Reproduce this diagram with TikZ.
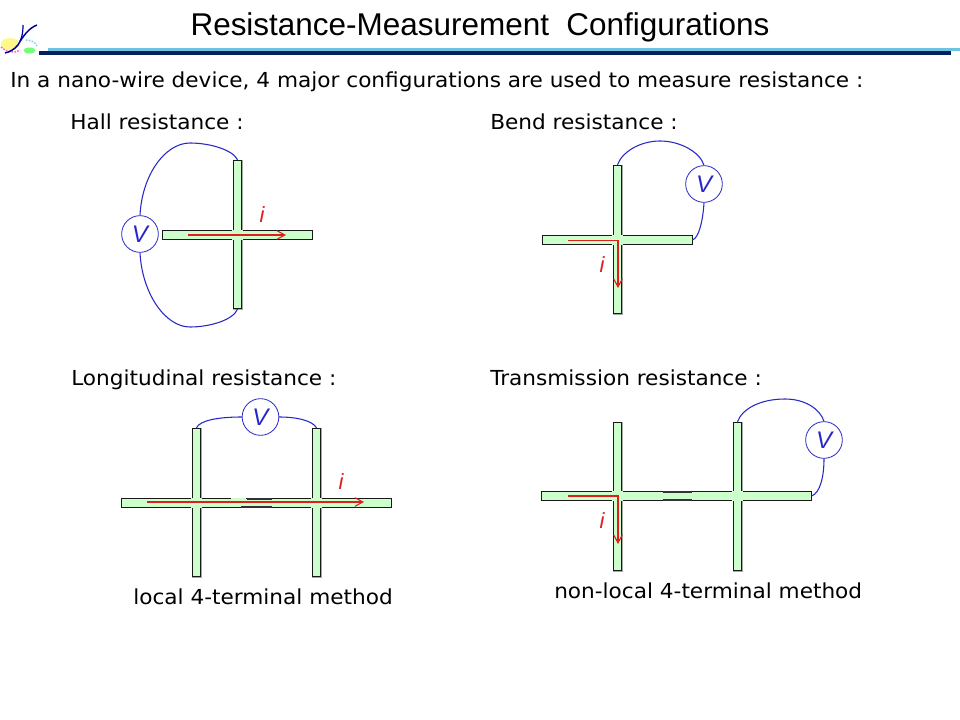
\documentclass[tikz,border=0pt]{standalone}
\usepackage{fontspec}
\setmainfont[FakeStretch=1.046]{DejaVu Sans}
\newfontfamily\titlefont{Liberation Sans}
\usetikzlibrary{arrows.meta}
\usetikzlibrary{calc}
\definecolor{bargreen}{RGB}{204,255,204}
\definecolor{wireblue}{RGB}{40,40,200}
\definecolor{currentred}{RGB}{225,30,30}
\definecolor{linelight}{RGB}{110,195,225}
\definecolor{linedark}{RGB}{0,32,96}
\begin{document}
\begin{tikzpicture}[
	x=0.75pt, y=-0.75pt,
	> = {Straight Barb[length=6pt,width=6.5pt]},
	txt/.style = {anchor=base west, inner sep=0pt, font=\fontsize{15.5}{18}\selectfont, text=black},
	barshadow/.style = {preaction={draw=black!35, line width=0.8pt, transform canvas={shift={(0.3pt,-0.3pt)}}}},
	hbar/.style = {draw=black!90, fill=bargreen, line width=0.6pt, rectangle, inner sep=0pt, minimum height=6.4pt, barshadow},
	vbar/.style = {draw=black!90, fill=bargreen, line width=0.6pt, rectangle, inner sep=0pt, minimum width=6.4pt, barshadow},
	joint/.style = {fill=bargreen, rectangle, inner sep=0pt, minimum size=7.6pt},
	meter/.style = {draw=wireblue, fill=white, circle, inner sep=0pt, minimum size=27.5pt, line width=0.6pt, text=wireblue, font=\titlefont\fontsize{18}{20}\selectfont\itshape},
	wire/.style = {draw=wireblue, line width=0.8pt},
	current/.style = {draw=currentred, line width=0.8pt, ->},
	curlabel/.style = {text=currentred, inner sep=0pt, font=\titlefont\fontsize{16.5}{18}\selectfont\itshape},
	seam/.style = {draw=black!80, line width=1pt}
	]
	\useasboundingbox (0,0) rectangle (960,720);
	\fill[white] (0,0) rectangle (960,720);

	% heading
	\node[anchor=base, inner sep=0pt, font=\titlefont\fontsize{23.6}{26}\selectfont] (title) at (480,35.5) {Resistance-Measurement\ \ Configurations};
	\fill[linelight] (48,48) rectangle (960,51.5);
	\fill[linedark] (39,51.5) rectangle (951,55);

	% logo
	\fill[yellow!45] (10,44) ellipse (9 and 6);
	\fill[green!55] (29.5,50.5) ellipse (6 and 3);
	\draw[magenta!60, densely dotted, line width=1.2pt] (1,47) .. controls (6,52) and (13,54) .. (20,50);
	\draw[cyan!50, densely dotted, line width=1.2pt] (26,40) .. controls (31,40) and (35,42) .. (37,46);
	\draw[blue!60!black, line width=0.9pt] (23,25) .. controls (23,33) and (22,37) .. (20,41);
	\draw[blue!60!black, line width=1.1pt] (37,25) .. controls (29,28) and (23,36) .. (18,45) .. controls (14,50) and (9,52) .. (5,53);

	\node[txt] (intro) at (10,87.5) {In a nano-wire device, 4 major configurations are used to measure resistance :};
	\node[txt] (hallhead) at (70,129.5) {Hall resistance :};
	\node[txt] (bendhead) at (490,129.5) {Bend resistance :};
	\node[txt] (longhead) at (71,385.5) {Longitudinal resistance :};
	\node[txt] (transhead) at (490,385.5) {Transmission resistance :};
	\node[txt] (localnote) at (133,604.5) {local 4-terminal method};
	\node[txt] (nonlocalnote) at (554,598.5) {non-local 4-terminal method};

	% Hall
	\node[hbar, minimum width=112.5pt] (hallh) at (237.5,235) {};
	\node[vbar, minimum height=111.5pt] (hallv) at (237.5,234.5) {};
	\node[joint] (hallj) at (237.5,235) {};
	\node[meter] (hallm) at (140,234) {V};
	\draw[wire] (hallm.north) .. controls (142,175) and (165,143) .. (190,143) .. controls (210,143) and (233,150) .. (hallv.north);
	\draw[wire] (hallm.south) .. controls (142,293) and (165,327) .. (190,327) .. controls (210,327) and (233,320) .. (hallv.south);
	\draw[current] (188,235) -- (286,235);
	\node[curlabel] (halli) at (262,215) {i};

	% Bend
	\node[hbar, minimum width=112.5pt] (bendh) at (617,240) {};
	\node[vbar, minimum height=111.5pt] (bendv) at (617.5,239.5) {};
	\node[joint] (bendj) at (617.5,240) {};
	\node[meter] (bendm) at (704,184) {V};
	\draw[wire] (bendv.north) .. controls (622,152) and (640,141) .. (660,141) .. controls (680,141) and (700,152) .. (bendm.north);
	\draw[wire] (bendm.south) .. controls (703,220) and (699,238) .. (bendh.east);
	\draw[current] (568,240.6) -- (618,240.6) -- (618,288);
	\node[curlabel] (bendi) at (602,265) {i};

	% Longitudinal
	\node[hbar, minimum width=202.5pt] (longh) at (256,503) {};
	\node[vbar, minimum height=111.5pt] (longva) at (196.5,502.5) {};
	\node[vbar, minimum height=111.5pt] (longvb) at (316.5,502.5) {};
	\node[joint] (longja) at (196.5,503) {};
	\node[joint] (longjb) at (316.5,503) {};
	\draw[seam] (247,499) -- (272,499);
	\draw[seam] (241,507) -- (272,507);
	\fill[bargreen] (231,498) rectangle (246,500);
	\node[meter] (longm) at (260.5,417) {V};
	\draw[wire] (longva.north) .. controls (200,420) and (220,417) .. (longm.west);
	\draw[wire] (longm.east) .. controls (295,417) and (312,420) .. (longvb.north);
	\draw[current] (147,502) -- (364,502);
	\node[curlabel] (longi) at (341,482) {i};

	% Transmission
	\node[hbar, minimum width=202pt] (transh) at (676.5,496) {};
	\node[vbar, minimum height=111.5pt] (transva) at (617.5,496.5) {};
	\node[vbar, minimum height=111.5pt] (transvb) at (737.5,496.5) {};
	\node[joint] (transja) at (617.5,496) {};
	\node[joint] (transjb) at (737.5,496) {};
	\draw[seam] (663,492) -- (692,492);
	\draw[seam] (663,500) -- (692,500);
	\node[meter] (transm) at (824,440) {V};
	\draw[wire] (transvb.north) .. controls (742,409) and (760,399) .. (785,399) .. controls (805,399) and (820,409) .. (transm.north);
	\draw[wire] (transm.south) .. controls (824,477) and (820,493) .. (transh.east);
	\draw[current] (568,496) -- (618,496) -- (618,544);
	\node[curlabel] (transi) at (602,521) {i};
\end{tikzpicture}
\end{document}
